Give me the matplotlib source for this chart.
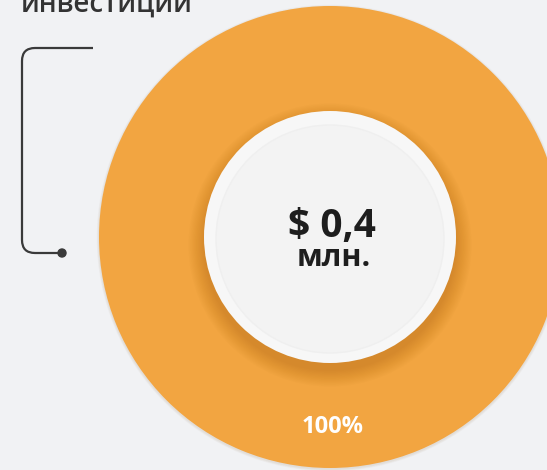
import matplotlib.pyplot as plt
from matplotlib.patches import Circle
from matplotlib.path import Path
from matplotlib.patches import PathPatch

# data
shares = [100]
share_labels = ['100%']
amount = '$ 0,4'
unit = 'млн.'
caption = 'инвестиций'

bg = '#f1f2f4'
orange = '#f2a541'
dark = '#1e1e1e'

W, H = 547, 470
fig = plt.figure(figsize=(W / 100, H / 100), dpi=100, facecolor=bg)
ax = fig.add_axes([0, 0, 1, 1])
ax.set_facecolor(bg)

cx, cy, R = 330, 237, 231
r_in = 126

# soft edge shadow of the outer disc
for i in range(4):
    ax.add_patch(Circle((cx, cy + 1), R + 0.5 + i * 0.6, color='#7a5020', alpha=0.03, lw=0, zorder=1))

ax.pie(shares, radius=R, center=(cx, cy), colors=[orange], startangle=90,
       counterclock=False, wedgeprops=dict(linewidth=0))
# pie resets limits and aspect
ax.set_xlim(0, W)
ax.set_ylim(H, 0)
ax.set_aspect('equal')
ax.axis('off')
for w in ax.patches:
    w.set_zorder(2)

# percentage label inside the ring
ax.text(cx + 3, 427, share_labels[0], ha='center', va='center', color='white',
        fontsize=17, fontweight='bold', family='Open Sans', zorder=6)

# shadow under the white plate
for i in range(14):
    ax.add_patch(Circle((cx, cy + 8), r_in + i * 1.2, color='#8a4f00', alpha=0.018, lw=0, zorder=3))

ax.add_patch(Circle((cx, cy), r_in, facecolor='#f7f7f7', edgecolor='none', zorder=4))
ax.add_patch(Circle((cx, cy + 2), r_in - 12, facecolor='#f3f3f3', edgecolor='#efefef', lw=1.0, zorder=4))

ax.text(cx + 2, 226, amount, ha='center', va='center', color=dark,
        fontsize=28, fontweight='bold', family='Open Sans', zorder=6)
ax.text(cx + 4, 258, unit, ha='center', va='center', color=dark,
        fontsize=22, fontweight='bold', family='Open Sans', zorder=6)

# caption cut off at the top
ax.text(21, 12, caption, ha='left', va='baseline', color='#333333',
        fontsize=20, family='Open Sans', fontweight='semibold', zorder=6)

# bracket with rounded corners and a dot
rc = 13
verts = [(93, 48), (22 + rc, 48), (22, 48), (22, 48 + rc),
         (22, 253 - rc), (22, 253), (22 + rc, 253), (62, 253)]
codes = [Path.MOVETO, Path.LINETO, Path.CURVE3, Path.CURVE3,
         Path.LINETO, Path.CURVE3, Path.CURVE3, Path.LINETO]
ax.add_patch(PathPatch(Path(verts, codes), facecolor='none', edgecolor='#3a3a3a', lw=1.6, zorder=5))
ax.add_patch(Circle((62, 253), 4, color='#3a3a3a', zorder=5))

fig.savefig('out.png', dpi=100, facecolor=bg)
